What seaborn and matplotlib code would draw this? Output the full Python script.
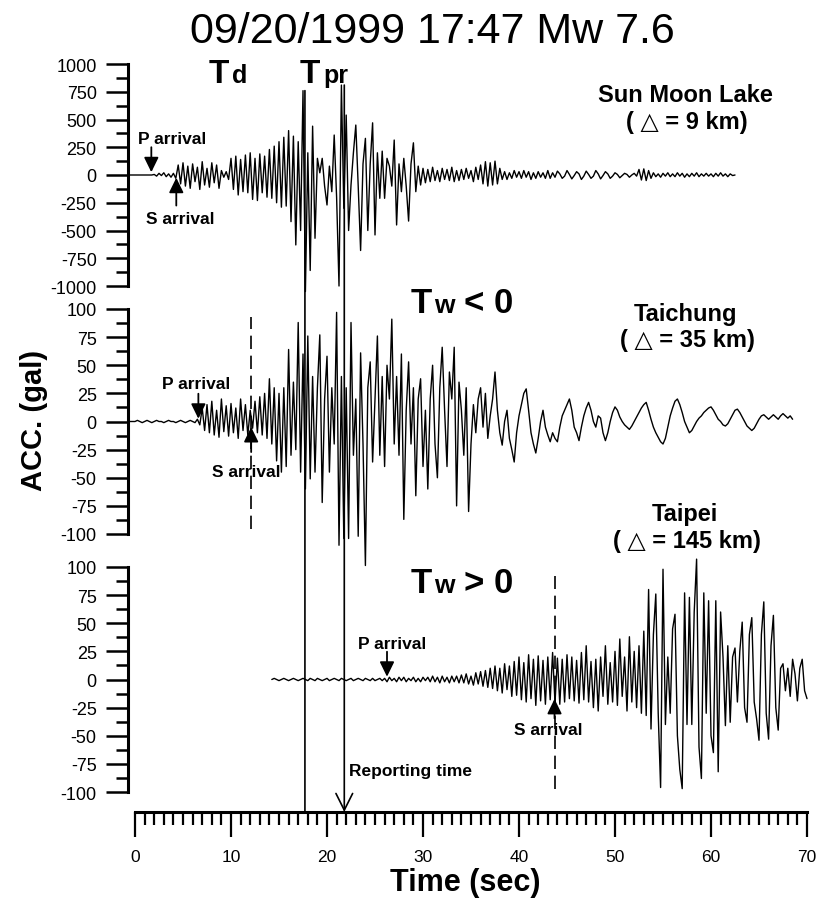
import numpy as np
import matplotlib.pyplot as plt
import seaborn as sns
from matplotlib.patches import ConnectionPatch
from matplotlib.ticker import MultipleLocator

# acceleration traces (gal), one value every 0.25 s
dt = 0.25

sml_start = -0.75
sml_acc = [
    0, 0, 0,
    0, 0, 0, 0, 0, 0, 0, 0,
    5, -10, 15, -5, 20, -15, 10, -20,
    15, -30, 90, -80, 110, -100, 80, -120,
    100, -60, 70, -130, 120, -90, 60, -110,
    110, -70, 90, -120, 40, -20, 30, -40,
    150, -130, 170, -180, 140, -150, 180, -160,
    200, -220, 150, -230, 190, -160, 170, -200,
    230, -210, 260, -250, 300, -290, 340, -280,
    400, -420, 350, -630, 300, -500, 760, -1050,
    200, -860, 440, -570, 150, 20, 150, -100,
    -270, 80, -150, 360, -200, -1000, 810, -300,
    540, -500, -90, 200, 450, -100, -680, 100,
    330, -500, 100, 470, -540, 200, -210, 215,
    -210, 150, 80, -100, 315, -450, 100, -150,
    150, -100, -415, 100, 290, -150, 80, -90,
    60, -70, 50, -60, 70, -50, 40, -60,
    60, -40, 50, -50, 70, -60, 40, -50,
    50, -40, 60, -30, 40, -60, 70, -40,
    90, -80, 120, -100, 110, -90, 125, -80,
    60, -40, 30, -40, 20, -30, 40, -20,
    30, -30, 40, -20, 30, -40, 20, -30,
    30, -20, 20, -30, 40, -30, 20, -20,
    35, 10, -30, -10, 40, 5, -35, -5,
    30, 10, -40, -10, 35, 5, -30, -10,
    40, 10, -35, -5, 30, 10, -30, -10,
    20, 5, -25, -5, 15, 5, -20, 0,
    15, -10, 50, -45, 55, -50, 40, -30,
    20, -15, 10, -20, 15, -10, 20, -15,
    10, -15, 20, -10, 15, -20, 10, -15,
    15, -10, 20, -15, 10, -10, 15, -10,
    10, -15, 15, -10, 20, -10, 10, -15,
    10, -5, 0,
]

tc_start = -0.75
tc_acc = [
    0, 0, 0,
    0, 1, 0, -1, 0, 1, 0, -1,
    0, 1, 0, 0, -1, 0, 1, 0,
    0, -1, 0, 1, 0, -1, 0, 1,
    0, -1, 2, -3, 12, -8, 15, -10,
    18, -12, 10, -14, 20, -9, 14, -13,
    16, -10, 12, -15, 20, -8, 15, -12,
    10, -6, 18, -10, 22, -12, 25, -15,
    38, -20, 30, -35, 25, -45, 30, -40,
    64, -30, 35, -25, 88, -45, 60, -60,
    76, -51, 40, -45, 30, 77, -72, 20,
    58, -45, 30, -20, 97, -110, 40, -104,
    30, -104, 88, -30, 20, -102, 61, -20,
    -128, 30, 53, -36, 20, 76, -30, 40,
    -40, 50, 20, 91, -20, 40, -30, 60,
    -87, 10, 53, -20, 30, -66, 20, 38,
    -40, 10, -60, 20, 50, -20, -50, 30,
    66, 10, -40, 44, 20, 66, -75, 35,
    10, -30, 30, -80, -20, 15, -10, 20,
    30, -5, 25, -15, 5, 20, 44, 10,
    -10, -21, 0, 10, -15, -25, -36, -10,
    5, 15, 25, 29, 10, -10, -20, -28,
    -15, 0, 10, -5, -12, -18, -10, -15,
    -18, -5, 5, 10, 15, 20, 10, -5,
    -10, -17, -5, 5, 12, 17, 10, 0,
    -5, 5, 3, -10, -17, -10, 0, 8,
    13, 10, 4, 0, -3, -5, -7, -4,
    0, 4, 8, 12, 15, 17, 10, 2,
    -5, -10, -14, -18, -20, -15, -5, 5,
    12, 18, 20, 15, 8, 0, -5, -10,
    -8, -4, 0, 3, 5, 8, 10, 12,
    13, 10, 6, 2, 0, -3, -4, -2,
    2, 6, 10, 11, 8, 4, 0, -4,
    -6, -8, -6, -2, 2, 5, 6, 4,
    2, 4, 6, 4, 2, 5, 7, 5,
    3, 5, 2,
]

tp_start = 14.25
tp_acc = [
    0, 1, 0, -1, 0, 1, 0,
    -1, 0, 1, 0, -1, 0, 1, 0,
    -1, 1, 0, -1, 1, 0, -1, 0,
    1, -1, 0, 1, 0, -1, 1, 0,
    -1, 0, 1, -1, 0, 1, 0, -1,
    1, 0, -1, 1, -1, 0, 1, -1,
    1, -2, 2, -1, 1, -2, 2, -1,
    2, -2, 1, -1, 2, -2, 1, -2,
    2, -1, 2, -2, 3, -2, 2, -3,
    3, -2, 2, -3, 3, -2, 3, -3,
    4, -3, 5, -4, 3, -5, 6, -4,
    7, -6, 8, -7, 10, -8, 12, -10,
    10, -12, 14, -9, 12, -15, 16, -14,
    20, -18, 15, -20, 22, -17, 18, -23,
    21, -19, 17, -22, 20, -18, 24, -21,
    19, -22, 18, -20, 22, -17, 20, -19,
    17, -21, 24, -18, 30, -20, 16, -25,
    18, -28, 20, -15, 30, -22, 15, -20,
    25, -23, 36, -15, 20, -28, 38, -20,
    25, -25, 30, -30, 43, -32, 80, -44,
    40, 76, -30, -96, 98, -40, 20, -30,
    45, 58, -50, -80, -97, 77, -40, 73,
    -40, 60, 107, -60, -88, 77, -30, 70,
    -50, -65, 70, -82, 60, 20, -41, 30,
    -38, 20, 28, -20, 25, 51, -25, -38,
    40, 55, -20, -35, -54, 40, 69, -30,
    -53, 30, 57, -25, -45, 10, 14, -10,
    10, -15, 18, 5, -19, 10, 18, -10,
    -17,
]

stations = ["Sun Moon Lake", "Taichung", "Taipei"]
distances_km = [9, 35, 145]
y_limits = [1000, 100, 100]
y_steps = [250, 25, 25]
p_arrivals = [1.7, 6.6, 26.25]
s_arrivals = [4.3, 12.1, 43.7]
t_d = 17.7          # time of decision
t_pr = 21.8         # reporting time
td_top, tpr_top = 760, 810   # top of the marker lines on the Sun Moon Lake trace

traces = [
    (sml_start, sml_acc),
    (tc_start, tc_acc),
    (tp_start, tp_acc),
]

sns.set_theme(style="white")
plt.rcParams['font.family'] = ['Liberation Sans', 'DejaVu Sans']
plt.rcParams['axes.unicode_minus'] = False
plt.rcParams['text.color'] = 'black'
plt.rcParams['xtick.color'] = 'black'
plt.rcParams['ytick.color'] = 'black'

W, H = 817, 903
fig = plt.figure(figsize=(W / 100, H / 100), dpi=100)


def fx(px):
    return px / W


def fy(py):
    return 1 - py / H


left, width = fx(128), 679 / W
xlim = (-0.73, 70.0)
boxes = [(287, 222), (535, 225), (793, 225)]   # bottom pixel, height pixel

axes = []
for (bot, h), (start, acc), lim, step in zip(boxes, traces, y_limits, y_steps):
    ax = fig.add_axes([left, fy(bot), width, h / H])
    ax.set_facecolor('none')
    t = start + dt * np.arange(len(acc))
    sns.lineplot(x=t, y=acc, ax=ax, color='black', linewidth=1.0,
                 estimator=None, sort=False, clip_on=False)
    ax.set_xlim(*xlim)
    ax.set_ylim(-lim, lim)
    for side in ['top', 'right', 'bottom']:
        ax.spines[side].set_visible(False)
    ax.spines['left'].set_linewidth(2.2)
    ax.spines['left'].set_color('black')
    ax.set_xticks([])
    ax.yaxis.set_major_locator(MultipleLocator(step))
    ax.yaxis.set_minor_locator(MultipleLocator(step / 2))
    ax.tick_params(axis='y', which='major', left=True, direction='out',
                   length=15.5, width=1.8, labelsize=13, pad=7)
    ax.tick_params(axis='y', which='minor', left=True, direction='out',
                   length=8.5, width=1.8)
    ax.set_xlabel('')
    ax.set_ylabel('')
    axes.append(ax)

# time axis
axb = fig.add_axes([left, fy(813), width, 0.02])
axb.set_facecolor('none')
axb.set_xlim(*xlim)
axb.set_ylim(0, 1)
for side in ['top', 'right', 'left']:
    axb.spines[side].set_visible(False)
axb.spines['bottom'].set_bounds(0, 70)
axb.spines['bottom'].set_linewidth(2.2)
axb.spines['bottom'].set_color('black')
axb.set_yticks([])
axb.xaxis.set_major_locator(MultipleLocator(10))
axb.xaxis.set_minor_locator(MultipleLocator(1))
axb.tick_params(axis='x', which='major', bottom=True, direction='out',
                length=18, width=1.6, labelsize=12.5, pad=9)
axb.tick_params(axis='x', which='minor', bottom=True, direction='out',
                length=9.5, width=1.6)

# P / S arrival arrows
p_style = dict(arrowstyle='-|>,head_length=0.45,head_width=0.22', color='black',
               lw=1.3, mutation_scale=20, shrinkA=0)
p_text = [(15, 26), (-1.5, 27), (3.6, 26)]
s_text = [(3, -31), (-3.6, -36), (-4.3, -36)]
s_tip = [2, 4, 14]
s_tail = [22, 22, 28]
for ax, tp_, ts_, pt, st, sg, sl in zip(axes, p_arrivals, s_arrivals, p_text,
                                        s_text, s_tip, s_tail):
    ax.annotate('', xy=(tp_, 0), xytext=(0, 20), textcoords='offset points',
                arrowprops=dict(p_style, shrinkB=2))
    ax.annotate('P arrival', xy=(tp_, 0), xytext=pt, textcoords='offset points',
                ha='center', va='center', fontsize=12.5, fontweight='bold')
    ax.annotate('', xy=(ts_, 0), xytext=(0, -sl), textcoords='offset points',
                arrowprops=dict(p_style, shrinkB=sg))
    ax.annotate('S arrival', xy=(ts_, 0), xytext=st, textcoords='offset points',
                ha='center', va='center', fontsize=12.5, fontweight='bold')

# S arrival dashed markers
axes[1].axvline(s_arrivals[1], ymin=0.022, ymax=0.964, color='black',
                lw=1.2, ls=(0, (8, 4)))
axes[2].axvline(s_arrivals[2], ymin=0.013, ymax=0.96, color='black',
                lw=1.2, ls=(0, (8, 4)))

# Td and reporting time lines
fig.add_artist(ConnectionPatch(xyA=(t_d, td_top), coordsA='data', axesA=axes[0],
                               xyB=(t_d, 0), coordsB='data', axesB=axb,
                               color='black', lw=1.2))
fig.add_artist(ConnectionPatch(xyA=(t_pr, tpr_top), coordsA='data', axesA=axes[0],
                               xyB=(t_pr, 0), coordsB='data', axesB=axb,
                               color='black', lw=1.2, shrinkA=0, shrinkB=0,
                               arrowstyle='->,head_length=0.6,head_width=0.3',
                               mutation_scale=20))
fig.text(fx(349), fy(772), 'Reporting time', ha='left', va='center',
         fontsize=12.5, fontweight='bold')

# labels
fig.text(fx(432), fy(32), '09/20/1999 17:47 Mw 7.6', ha='center', va='center',
         fontsize=31)
fig.text(fx(209), fy(83), 'T', fontsize=24, fontweight='bold', va='baseline')
fig.text(fx(232), fy(83), 'd', fontsize=18, fontweight='bold', va='baseline')
fig.text(fx(300), fy(83), 'T', fontsize=24, fontweight='bold', va='baseline')
fig.text(fx(323), fy(83), 'pr', fontsize=18, fontweight='bold', va='baseline')
for base, sign in [(313, '< 0'), (593, '> 0')]:
    fig.text(fx(411), fy(base), 'T', fontsize=25, fontweight='bold', va='baseline')
    fig.text(fx(434), fy(base), 'w', fontsize=19, fontweight='bold', va='baseline')
    fig.text(fx(464), fy(base), sign, fontsize=25, fontweight='bold', va='baseline')

label_y = [96, 314, 515]
for name, dist, ly in zip(stations, distances_km, label_y):
    fig.text(fx(685), fy(ly), name, ha='center', va='center',
             fontsize=17, fontweight='bold')
    fig.text(fx(687), fy(ly + 27), f'( \u25b3 = {dist} km)', ha='center',
             va='center', fontsize=17, fontweight='bold')

fig.text(fx(34), fy(420), 'ACC. (gal)', rotation=90, ha='center', va='center',
         fontsize=21, fontweight='bold')
fig.text(fx(465), fy(883), 'Time (sec)', ha='center', va='center',
         fontsize=22, fontweight='bold')

fig.savefig('out.png', dpi=100)
